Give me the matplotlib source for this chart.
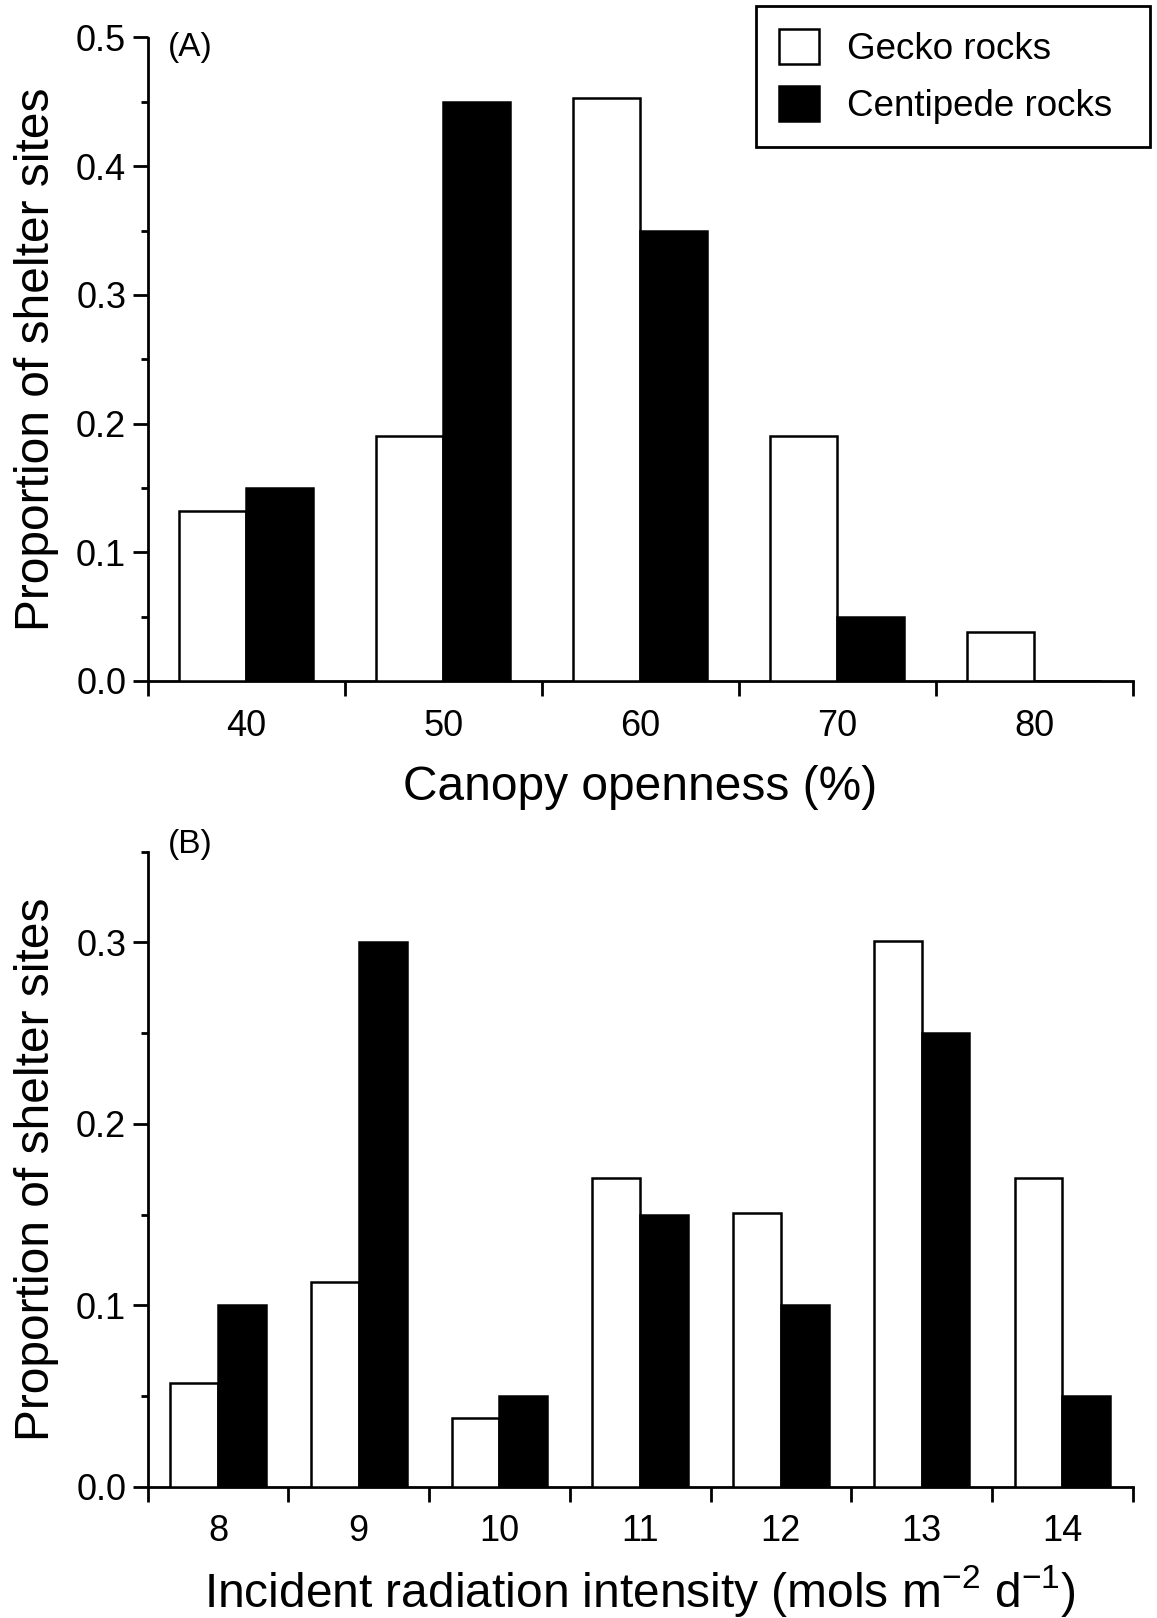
import matplotlib
matplotlib.use("Agg")
import matplotlib.pyplot as plt
import numpy as np
from matplotlib.ticker import MultipleLocator, FixedLocator

plt.rcParams['font.family'] = ['Liberation Sans', 'DejaVu Sans']
plt.rcParams['mathtext.fontset'] = 'custom'
plt.rcParams['mathtext.rm'] = 'Liberation Sans'

# ---- data ----
canopy_labels = ["40", "50", "60", "70", "80"]
canopy_gecko = [0.132, 0.19, 0.453, 0.19, 0.038]
canopy_centipede = [0.15, 0.45, 0.35, 0.05, 0.0]

rad_labels = ["8", "9", "10", "11", "12", "13", "14"]
rad_gecko = [0.057, 0.113, 0.038, 0.17, 0.151, 0.301, 0.17]
rad_centipede = [0.10, 0.30, 0.05, 0.15, 0.10, 0.25, 0.05]

series_names = ["Gecko rocks", "Centipede rocks"]

W = 1157
H = 1618
fig = plt.figure(figsize=(W / 100, H / 100), dpi=100)

lw_axis = 2.0
lw_bar = 1.8
bw = 0.34
tick_fs = 26
label_fs = 34.5

def style(ax, labels, ymax, ymajor):
    n = len(labels)
    for s in ("top", "right"):
        ax.spines[s].set_visible(False)
    for s in ("left", "bottom"):
        ax.spines[s].set_linewidth(lw_axis)
    ax.set_xlim(-0.5, n - 0.5)
    ax.set_ylim(0, ymax)
    ax.xaxis.set_major_locator(FixedLocator(np.arange(n)))
    ax.set_xticklabels(labels)
    ax.xaxis.set_minor_locator(FixedLocator(np.arange(n + 1) - 0.5))
    ax.tick_params(axis='x', which='major', length=0, pad=20, labelsize=tick_fs)
    ax.tick_params(axis='x', which='minor', length=11, width=lw_axis, direction='out')
    ax.yaxis.set_major_locator(MultipleLocator(ymajor))
    ax.yaxis.set_minor_locator(MultipleLocator(ymajor / 2))
    ax.tick_params(axis='y', which='major', length=10.5, width=lw_axis, pad=5, labelsize=tick_fs)
    ax.tick_params(axis='y', which='minor', length=5, width=lw_axis)
    ax.yaxis.set_major_formatter(matplotlib.ticker.FormatStrFormatter('%.1f'))

# top panel
axA = fig.add_axes([147.7 / W, 1 - 681 / H, 985 / W, (681 - 37.5) / H])
xA = np.arange(len(canopy_labels))
axA.bar(xA, canopy_gecko, width=-bw, align='edge', color='white', edgecolor='black',
        linewidth=lw_bar, label=series_names[0], zorder=3)
axA.bar(xA, canopy_centipede, width=bw, align='edge', color='black', edgecolor='black',
        linewidth=lw_bar, label=series_names[1], zorder=3)
style(axA, canopy_labels, 0.5, 0.1)
axA.set_xlabel("Canopy openness (%)", fontsize=label_fs, labelpad=15)
axA.set_ylabel("Proportion of shelter sites", fontsize=label_fs, labelpad=12)
axA.text(168 / W, 1 - 56 / H, "(A)", transform=fig.transFigure, fontsize=24,
         ha='left', va='baseline')

leg = axA.legend(loc='upper left',
                 bbox_to_anchor=(755.7 / W, 1 - 146.7 / H, 394.3 / W, 141 / H),
                 bbox_transform=fig.transFigure, mode='expand',
                 fontsize=26.5, frameon=True,
                 fancybox=False, edgecolor='black', borderpad=0.62,
                 handlelength=1.09, handleheight=1.09, handletextpad=0.78,
                 labelspacing=0.52, borderaxespad=0)
leg.get_frame().set_linewidth(2.0)
leg.get_frame().set_alpha(None)

# bottom panel
axB = fig.add_axes([147.7 / W, 1 - 1486.7 / H, 985 / W, (1486.7 - 851.7) / H])
xB = np.arange(len(rad_labels))
axB.bar(xB, rad_gecko, width=-bw, align='edge', color='white', edgecolor='black',
        linewidth=lw_bar, zorder=3)
axB.bar(xB, rad_centipede, width=bw, align='edge', color='black', edgecolor='black',
        linewidth=lw_bar, zorder=3)
style(axB, rad_labels, 0.35, 0.1)
axB.set_xlabel(r"Incident radiation intensity (mols m$^{\mathregular{-2}}$ d$^{\mathregular{-1}}$)",
               fontsize=label_fs, labelpad=10)
axB.set_ylabel("Proportion of shelter sites", fontsize=label_fs, labelpad=12)
axB.text(168 / W, 1 - 853 / H, "(B)", transform=fig.transFigure, fontsize=24,
         ha='left', va='baseline')

fig.savefig("out.png", dpi=100)
